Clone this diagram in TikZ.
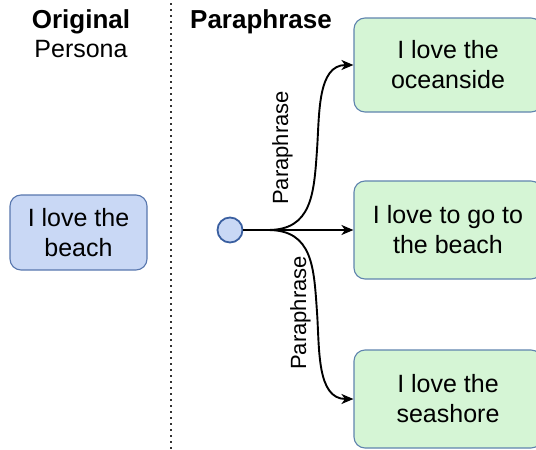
\documentclass[tikz,border=0pt]{standalone}
\usepackage{fontspec}
\setmainfont{Liberation Sans}
\usetikzlibrary{arrows.meta}

\definecolor{greenfill}{HTML}{D5F5D5}
\definecolor{greenline}{HTML}{5F84AE}
\definecolor{bluefill}{HTML}{C9D8F5}
\definecolor{blueline}{HTML}{5877AE}
\definecolor{dotgray}{HTML}{333333}
\definecolor{circline}{HTML}{3A5FA0}

\tikzset{
  boxtext/.style={font=\fontsize{25}{30}\selectfont, align=center, text=black},
  paraphbox/.style={boxtext, draw=greenline, fill=greenfill, line width=1.1pt,
    rounded corners=11pt, minimum width=188pt, minimum height=98pt, inner sep=0pt},
  origbox/.style={boxtext, draw=blueline, fill=bluefill, line width=1.1pt,
    rounded corners=11pt, minimum width=137pt, minimum height=75pt, inner sep=0pt},
  header/.style={font=\fontsize{26}{30}\selectfont\bfseries, anchor=base},
  subheader/.style={font=\fontsize{25}{30}\selectfont, anchor=base},
  edgelabel/.style={font=\fontsize{22}{26}\selectfont, rotate=90, anchor=base},
  arrowline/.style={line width=1.9pt, -{Stealth[length=12pt,width=10pt,inset=3.5pt]}},
  divider/.style={dotgray, line width=2pt, dash pattern=on 1.8pt off 4.2pt},
}

\begin{document}
\begin{tikzpicture}[x=1pt, y=-1pt]
  \useasboundingbox (0,0) rectangle (536,450);

  % column headings
  \node[header]    (hOrig)  at (81,28)  {Original};
  \node[subheader] (hPers)  at (81,57)  {Persona};
  \node[header]    (hPara)  at (261,28) {Paraphrase};

  % column divider
  \coordinate (divTop) at (171,3);
  \coordinate (divBot) at (171,450);
  \draw[divider] (divTop) -- (divBot);

  % original persona sentence
  \node[origbox] (orig) at (78.5,232.5) {I love the\\beach};

  % source point and fork
  \node[circle, draw=circline, fill=bluefill, line width=1.8pt,
        minimum size=25pt, inner sep=0pt] (src) at (230,230) {};
  \coordinate (fork) at (268,230);
  \coordinate (upMid) at (317,150);
  \coordinate (dnMid) at (317,312);

  % paraphrased sentences
  \node[paraphbox, minimum height=94pt] (p1) at (448,65)  {I love the\\oceanside};
  \node[paraphbox] (p2) at (448,230) {I love to go to\\the beach};
  \node[paraphbox] (p3) at (448,399) {I love the\\seashore};

  % connectors
  \draw[arrowline] (src.east) -- (p2.west);
  \draw[arrowline] (fork) to[out=0, in=-94, looseness=1.2] (upMid)
                          to[out=86, in=180] (p1.west);
  \draw[arrowline] (fork) to[out=0, in=94, looseness=1.2] (dnMid)
                          to[out=-86, in=180] (p3.west);

  % branch labels
  \node[edgelabel] (l1) at (288,148) {Paraphrase};
  \node[edgelabel] (l3) at (306,313) {Paraphrase};
\end{tikzpicture}
\end{document}
